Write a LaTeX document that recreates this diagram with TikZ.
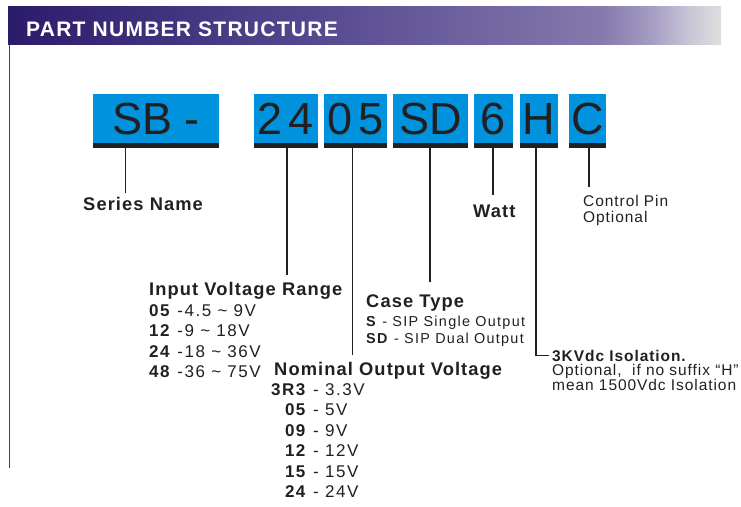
\documentclass[tikz,border=0pt]{standalone}
\usepackage{fontspec}
\setmainfont{Liberation Sans}
\newfontfamily\trackfont[LetterSpace=6]{Liberation Sans}
\newfontfamily\widetrack[LetterSpace=9]{Liberation Sans}
\newfontfamily\notetrack[LetterSpace=6]{Liberation Sans}
\usetikzlibrary{positioning}

\definecolor{boxblue}{RGB}{0,146,221}
\definecolor{inkdark}{RGB}{35,31,32}
\definecolor{barA}{RGB}{43,27,107}
\definecolor{barB}{RGB}{84,70,142}
\definecolor{barC}{RGB}{133,121,173}
\definecolor{barD}{RGB}{165,157,194}
\definecolor{barE}{RGB}{203,199,216}
\definecolor{barF}{RGB}{222,222,222}
\pgfdeclarehorizontalshading{titlebar}{100bp}{color(0bp)=(barA); color(25bp)=(barA); color(45.5bp)=(barB); color(66.6bp)=(barC); color(70.1bp)=(barD); color(72.9bp)=(barE); color(75bp)=(barF); color(100bp)=(barF)}

\begin{document}
\begin{tikzpicture}[x=1pt,y=-1pt]
  \tikzset{
    partbox/.style={fill=boxblue,text=inkdark,inner sep=0pt,outer sep=0pt,minimum height=49pt,text height=32pt,text depth=0pt,font=\fontsize{45}{45}\selectfont},
    barline/.style={inkdark,line width=5pt},
    tick/.style={inkdark,line width=1.7pt},
    head/.style={anchor=base west,inner sep=0pt,text=inkdark,font=\trackfont\bfseries\fontsize{18.3}{20}\selectfont},
    listtxt/.style={anchor=base west,inner sep=0pt,text=inkdark,font=\widetrack\fontsize{17}{20.5}\selectfont},
    casetxt/.style={anchor=base west,inner sep=0pt,text=inkdark,font=\widetrack\fontsize{14.4}{17}\selectfont},
    notetxt/.style={anchor=base west,inner sep=0pt,text=inkdark,font=\notetrack\fontsize{15.5}{16.5}\selectfont}
  }
  \useasboundingbox (0,0) rectangle (741,506);

%%%%%%%%%%%%%%%%%%%%%%%%%%
% title bar
  \shade[shading=titlebar] (8,6) rectangle (721,44);
  \node[anchor=base west,inner sep=0pt,text=white,font=\trackfont\bfseries\fontsize{21}{21}\selectfont] (NTitle) at (26,36) {PART NUMBER STRUCTURE};
  \draw[inkdark!85,line width=1.5pt] (9.5,44) -- (9.5,468);

%%%%%%%%%%%%%%%%%%%%%%%%%%
% part number boxes
  \node[partbox,minimum width=126pt] (SB) at (156,118.5) {SB -};
  \node[partbox,minimum width=64pt] (B24) at (286,118.5) {2\kern6pt4};
  \node[partbox,minimum width=63pt] (B05) at (355.5,118.5) {0\kern6pt5};
  \node[partbox,minimum width=75pt] (BSD) at (430.5,118.5) {SD};
  \node[partbox,minimum width=39pt] (B6) at (493.5,118.5) {6};
  \node[partbox,minimum width=38pt] (BH) at (539,118.5) {H};
  \node[partbox,minimum width=37pt] (BC) at (587.5,118.5) {C};

  \draw[barline] ([yshift=-2.5pt]SB.south west) -- ([yshift=-2.5pt]SB.south east);
  \draw[barline] ([yshift=-2.5pt]B24.south west) -- ([yshift=-2.5pt]B24.south east);
  \draw[barline] ([yshift=-2.5pt]B05.south west) -- ([yshift=-2.5pt]B05.south east);
  \draw[barline] ([yshift=-2.5pt]BSD.south west) -- ([yshift=-2.5pt]BSD.south east);
  \draw[barline] ([yshift=-2.5pt]B6.south west) -- ([yshift=-2.5pt]B6.south east);
  \draw[barline] ([yshift=-2.5pt]BH.south west) -- ([yshift=-2.5pt]BH.south east);
  \draw[barline] ([yshift=-2.5pt]BC.south west) -- ([yshift=-2.5pt]BC.south east);

%%%%%%%%%%%%%%%%%%%%%%%%%%
% labels
  \node[head] (NSeries) at (83,210) {Series Name};
  \node[head] (NInput) at (149,295) {Input Voltage Range};
  \node[listtxt] (LInput) at ([yshift=-21pt]NInput.base west) {\begin{tabular}[t]{@{}l@{}}
    \textbf{05} -4.5 \textasciitilde{} 9V\\
    \textbf{12} -9 \textasciitilde{} 18V\\
    \textbf{24} -18 \textasciitilde{} 36V\\
    \textbf{48} -36 \textasciitilde{} 75V
  \end{tabular}};
  \node[head] (NNominal) at (274,375) {Nominal Output Voltage};
  \node[listtxt] (LNominal) at (271,395) {\begin{tabular}[t]{@{}r@{ - }l@{}}
    \textbf{3R3} & 3.3V\\
    \textbf{05} & 5V\\
    \textbf{09} & 9V\\
    \textbf{12} & 12V\\
    \textbf{15} & 15V\\
    \textbf{24} & 24V
  \end{tabular}};
  \node[head] (NCase) at (366,307) {Case Type};
  \node[casetxt] (LCase) at ([yshift=-19pt]NCase.base west) {\begin{tabular}[t]{@{}l@{}}
    \textbf{S} - SIP Single Output\\
    \textbf{SD} - SIP Dual Output
  \end{tabular}};
  \node[head] (NWatt) at (473,217) {Watt};
  \node[notetxt] (NControl) at (583,206) {\begin{tabular}[t]{@{}l@{}}Control Pin\\ Optional\end{tabular}};
  \node[notetxt,font=\notetrack\bfseries\fontsize{15.5}{14}\selectfont] (NIsoHead) at (552,361) {3KVdc Isolation.};
  \node[notetxt,font=\notetrack\fontsize{15.5}{13.5}\selectfont] (NIsoText) at ([yshift=-14pt]NIsoHead.base west) {\begin{tabular}[t]{@{}l@{}}Optional,\ \ if no suffix “H”\\ mean 1500Vdc Isolation\end{tabular}};

%%%%%%%%%%%%%%%%%%%%%%%%%%
% ticks down to the labels
  \coordinate (TSeries) at (125.6,193);
  \coordinate (TInput) at (287,275);
  \coordinate (TNominal) at (352.5,355);
  \coordinate (TCase) at (430,282);
  \coordinate (TWatt) at (493,195);
  \coordinate (TIso) at (536,353);
  \coordinate (TControl) at (589,187);

  \draw[tick] (SB.south -| TSeries) -- (TSeries);
  \draw[tick] (B24.south -| TInput) -- (TInput);
  \draw[tick] (B05.south -| TNominal) -- (TNominal);
  \draw[tick] (BSD.south -| TCase) -- (TCase);
  \draw[tick] (B6.south -| TWatt) -- (TWatt);
  \draw[tick] (BH.south -| TIso) |- ([xshift=-3pt]NIsoHead.west);
  \draw[tick] (BC.south -| TControl) -- (TControl);

\end{tikzpicture}
\end{document}
